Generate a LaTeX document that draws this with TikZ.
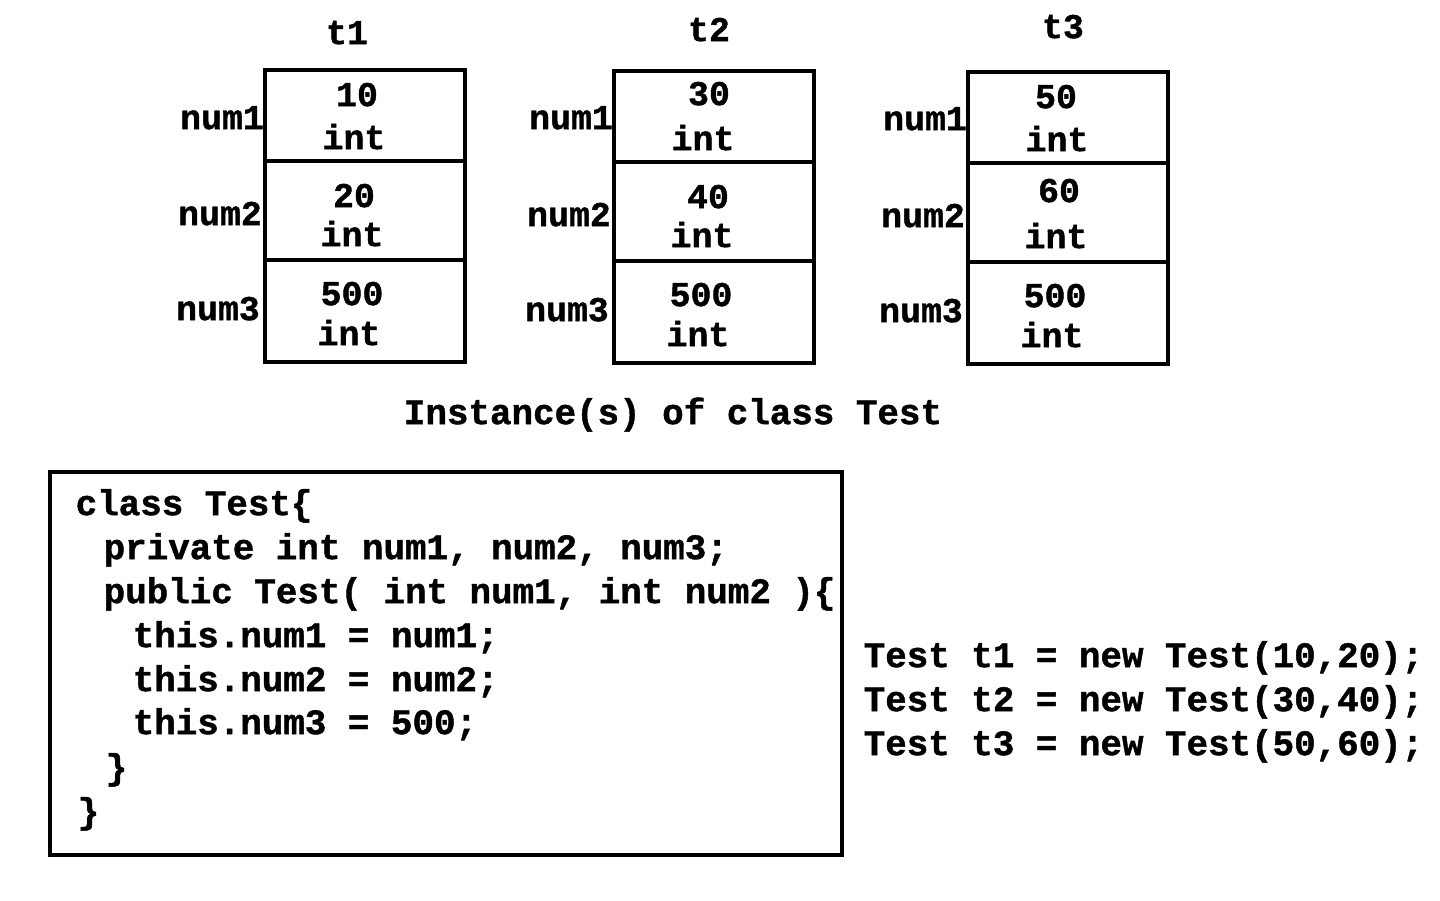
\documentclass[tikz,border=0pt]{standalone}
\usepackage{fontspec}
\setmonofont[BoldFeatures={FakeBold=1.2}]{Liberation Mono}
\begin{document}
\begin{tikzpicture}[x=0.01cm,y=-0.01cm,
  every node/.style={inner sep=0pt,yshift=-0.02cm,font=\ttfamily\bfseries\fontsize{9.9}{12}\selectfont,text height=1.4ex,text depth=0.2ex},
  code/.style={anchor=west,font=\ttfamily\bfseries\fontsize{10.2}{12}\selectfont},
  frame/.style={draw,line width=1pt}]
\useasboundingbox (0,0) rectangle (1440,900);
% instance t1
\draw[frame] (265,70) rectangle (465,362);
\draw[frame] (265,161) -- (465,161);
\draw[frame] (265,260) -- (465,260);
\node (t1) at (347,33) {t1};
\node (a1) at (357,95) {10}; \node (a1t) at (354,138) {int};
\node (a2) at (354,196) {20}; \node (a2t) at (352,235) {int};
\node (a3) at (352,294) {500}; \node (a3t) at (349,334) {int};
\node (an1) at (222,118) {num1};
\node (an2) at (220,214) {num2};
\node (an3) at (218,309) {num3};
% instance t2
\draw[frame] (614,71) rectangle (814,363);
\draw[frame] (614,162) -- (814,162);
\draw[frame] (614,261) -- (814,261);
\node (t2) at (709,30) {t2};
\node (b1) at (709,94) {30}; \node (b1t) at (703,139) {int};
\node (b2) at (708,197) {40}; \node (b2t) at (702,236) {int};
\node (b3) at (701,295) {500}; \node (b3t) at (698,335) {int};
\node (bn1) at (571,118) {num1};
\node (bn2) at (569,215) {num2};
\node (bn3) at (567,310) {num3};
% instance t3
\draw[frame] (968,72) rectangle (1168,364);
\draw[frame] (968,163) -- (1168,163);
\draw[frame] (968,262) -- (1168,262);
\node (t3) at (1063,27) {t3};
\node (c1) at (1056,97) {50}; \node (c1t) at (1057,140) {int};
\node (c2) at (1059,191) {60}; \node (c2t) at (1056,237) {int};
\node (c3) at (1055,296) {500}; \node (c3t) at (1052,336) {int};
\node (cn1) at (925,119) {num1};
\node (cn2) at (923,216) {num2};
\node (cn3) at (921,311) {num3};
% caption
\node[font=\ttfamily\bfseries\fontsize{10.2}{12}\selectfont] (cap) at (673,413) {Instance(s) of class Test};
% code box
\draw[frame] (50,472) rectangle (842,855);
\node[code] (l1) at (75,504) {class Test\{};
\node[code] (l2) at (103,548) {private int num1, num2, num3;};
\node[code] (l3) at (103,592) {public Test( int num1, int num2 )\{};
\node[code] (l4) at (132,636) {this.num1 = num1;};
\node[code] (l5) at (132,680) {this.num2 = num2;};
\node[code] (l6) at (132,723) {this.num3 = 500;};
\node[code] (l7) at (105,768) {\}};
\node[code] (l8) at (77,812) {\}};
% object creation
\node[code] (r1) at (863,656) {Test t1 = new Test(10,20);};
\node[code] (r2) at (863,700) {Test t2 = new Test(30,40);};
\node[code] (r3) at (863,744) {Test t3 = new Test(50,60);};
\end{tikzpicture}
\end{document}
